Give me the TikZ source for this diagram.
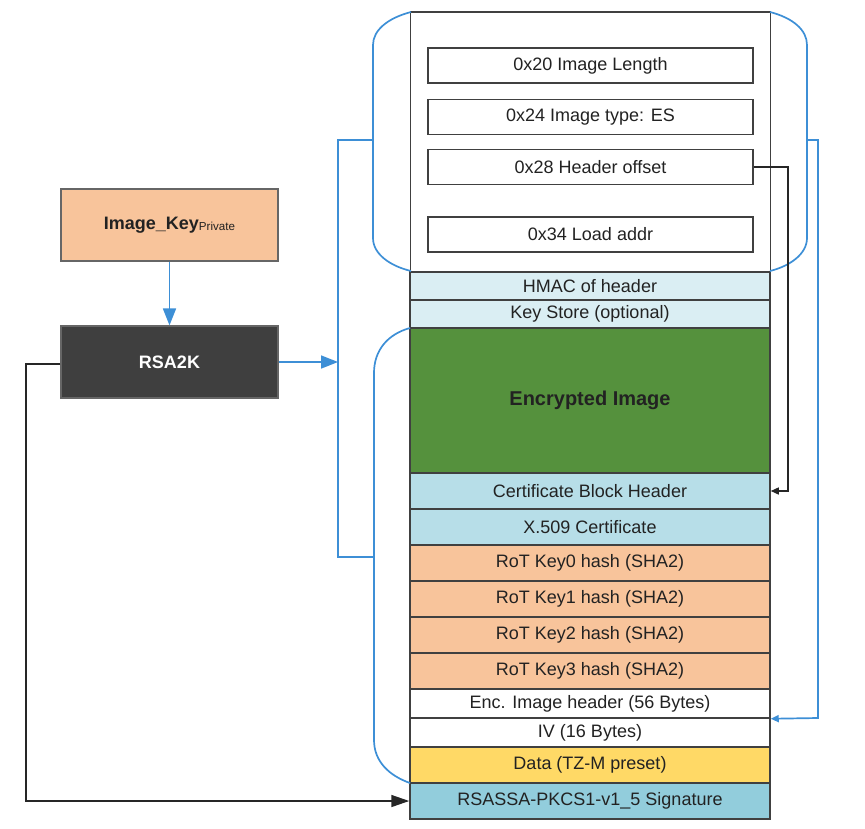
\documentclass[tikz,border=0pt]{standalone}
\usepackage{fontspec}
\setmainfont{Liberation Sans}
\usetikzlibrary{arrows.meta}
\definecolor{peach}{HTML}{F8C49B}
\definecolor{darkbox}{HTML}{3F3F3F}
\definecolor{hmacblue}{HTML}{DAEEF3}
\definecolor{encgreen}{HTML}{55913D}
\definecolor{certblue}{HTML}{B7DEE8}
\definecolor{datayellow}{HTML}{FFD966}
\definecolor{sigblue}{HTML}{92CDDC}
\definecolor{lineblue}{HTML}{3D8FD6}
\definecolor{border}{HTML}{404040}
\definecolor{txt}{HTML}{222222}
\begin{document}
\begin{tikzpicture}[x=1pt,y=-1pt,
  every node/.style={font=\fontsize{18pt}{20pt}\selectfont, text=txt},
  row/.style={draw=border, line width=1.5pt, minimum width=360pt, inner sep=0pt, anchor=center},
  field/.style={draw=border, line width=1.5pt, minimum width=325pt, minimum height=35pt, inner sep=0pt, fill=white},
  leftbox/.style={draw=border!80, line width=1.2pt, minimum width=217pt, minimum height=72pt, inner sep=0pt},
  brace/.style={draw=lineblue, line width=1.7pt},
  bluearrow/.style={draw=lineblue, line width=1.7pt, -{Triangle[length=17pt,width=13pt]}},
  smallblue/.style={draw=lineblue, line width=1.7pt, -{Triangle[length=8pt,width=7pt]}},
  smallblack/.style={draw=black!85, line width=1.4pt, -{Triangle[length=8pt,width=7pt]}},
  bigblack/.style={draw=black!85, line width=1.5pt, -{Triangle[length=18pt,width=12pt]}}
]
\useasboundingbox (0,0) rectangle (865,828);

% header container
\node[row, minimum height=260pt, fill=white] (hdr) at (590.5,142) {};
\node[field] (f20) at (590.5,65.5) {0x20 Image Length};
\node[field] (f24) at (590.5,117) {0x24 Image type: ES};
\node[field] (f28) at (590.5,167) {0x28 Header offset};
\node[field] (f34) at (590.5,234.5) {0x34 Load addr};

% rows
\node[row, minimum height=28pt, fill=hmacblue] (hmac) at (590,286) {HMAC of header};
\node[row, minimum height=28pt, fill=hmacblue] (kstore) at (590,314) {Key Store (optional)};
\node[row, minimum height=145pt, fill=encgreen, font=\fontsize{20pt}{22pt}\selectfont\bfseries] (enc) at (590,400.5) {Encrypted Image};
\node[row, minimum height=36pt, fill=certblue] (cbh) at (590,491) {Certificate Block Header};
\node[row, minimum height=36pt, fill=certblue] (x509) at (590,527) {X.509 Certificate};
\node[row, minimum height=36pt, fill=peach] (k0) at (590,563) {RoT Key0 hash (SHA2)};
\node[row, minimum height=36pt, fill=peach] (k1) at (590,599) {RoT Key1 hash (SHA2)};
\node[row, minimum height=36pt, fill=peach] (k2) at (590,635) {RoT Key2 hash (SHA2)};
\node[row, minimum height=36pt, fill=peach] (k3) at (590,671) {RoT Key3 hash (SHA2)};
\node[row, minimum height=29pt, fill=white] (ehdr) at (590,703.5) {Enc. Image header (56 Bytes)};
\node[row, minimum height=29pt, fill=white] (iv) at (590,732.5) {IV (16 Bytes)};
\node[row, minimum height=36pt, fill=datayellow] (data) at (590,765) {Data (TZ-M preset)};
\node[row, minimum height=36pt, fill=sigblue] (sig) at (590,801) {RSASSA-PKCS1-v1\_5 Signature};

% left boxes
\node[leftbox, fill=peach] (key) at (169.5,225) {\textbf{Image\_Key}\raisebox{-1pt}{\fontsize{11.6pt}{12pt}\selectfont Private}};
\node[leftbox, fill=darkbox, text=white, font=\fontsize{18pt}{20pt}\selectfont\bfseries] (rsa) at (169.5,362) {RSA2K};

% braces
\draw[brace] (411,12) .. controls (388,18) and (373,30) .. (373,45) -- (373,238) .. controls (373,254) and (390,266) .. (411,271);
\draw[brace] (770,12) .. controls (793,18) and (807,30) .. (807,45) -- (807,238) .. controls (807,254) and (790,266) .. (770,271);
\draw[brace] (410,328) .. controls (388,334) and (374,350) .. (374,373) -- (374,740) .. controls (374,762) and (390,776) .. (410,783);

% blue bus lines
\coordinate (busA) at (338,140);
\coordinate (busB) at (338,557);
\coordinate (busR) at (338,362);
\draw[brace] (373,140) -- (busA) -- (busB) -- (374,557);
\coordinate (rbusA) at (818,140);
\coordinate (rbusB) at (818,718);
\draw[smallblue] (807,140) -- (rbusA) -- (rbusB) -- (ehdr.south east);

% connectors
\draw[bluearrow] (key.south) -- (rsa.north);
\draw[bluearrow] (rsa.east) -- (busR);
\coordinate (hoA) at (788,167);
\draw[smallblack] (f28.east) -- (hoA) |- (cbh.east);
\coordinate (sgA) at (26,364);
\draw[bigblack] (rsa.west |- sgA) -- (sgA) |- (sig.west);
\end{tikzpicture}
\end{document}
